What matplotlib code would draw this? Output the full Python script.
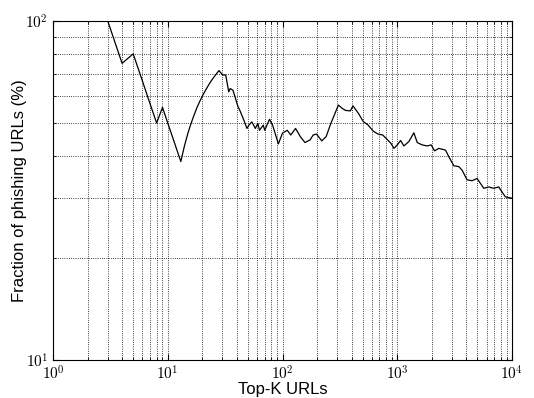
import math

import matplotlib
matplotlib.use('Agg')
import matplotlib.pyplot as plt
from matplotlib.ticker import LogLocator, FuncFormatter, NullFormatter

plt.rcParams['font.family'] = ['Liberation Sans', 'DejaVu Sans']
plt.rcParams['mathtext.fontset'] = 'cm'

# top-K rank and fraction of phishing URLs (%)
top_k = [1, 2, 3, 4, 5, 6, 7, 8, 9, 10, 11, 12, 13,
         14, 15, 16, 17, 18, 19, 20, 21, 22, 23, 24, 25, 26, 27, 28,
         30, 32, 34, 35, 37, 41, 42, 45, 49, 51, 54, 58, 61, 63, 68, 70,
         77, 82, 92, 100, 110, 118, 130, 143, 157, 174, 185, 198, 220, 240,
         264, 307, 332, 354, 390, 411, 459, 506, 558, 615, 678, 747, 823,
         879, 937, 1000, 1069, 1143, 1263, 1396, 1493, 1650, 1824, 1976,
         2113, 2303, 2633, 2814, 3110, 3437, 3675, 4060, 4487, 4960, 5305,
         5673, 6270, 6930, 7660, 8190, 8750, 10000]
fraction = [100, 100, 100, 75, 80, 66.7, 57.1, 50, 55.6, 50, 45.5, 41.7, 38.5,
            42.9, 46.7, 50, 52.9, 55.6, 57.9, 60, 61.9, 63.6, 65.2, 66.7, 68, 69.2, 70.4, 71.4,
            69.3, 69.3, 61.8, 63.2, 62.5, 55.8, 55.0, 52.0, 48.2, 49.3, 50.4, 48.2, 49.9, 47.6, 49.3, 47.6,
            51.3, 49.3, 43.4, 46.7, 47.6, 46.1, 48.2, 45.6, 43.8, 44.6, 46.1, 46.4, 44.3, 45.6,
            49.9, 56.5, 55.2, 54.5, 54.3, 56.2, 53.4, 50.5, 49.3, 47.4, 46.4, 46.1, 44.6,
            43.6, 42.1, 43.1, 44.4, 42.8, 44.1, 46.8, 43.8, 43.1, 42.8, 43.1,
            41.4, 42.1, 41.6, 39.8, 37.4, 37.2, 36.3, 34.0, 33.8, 34.3, 33.2,
            32.1, 32.4, 32.1, 32.4, 31.3, 30.3, 30.0]

fig = plt.figure(figsize=(5.34, 3.98), dpi=100)
ax = fig.add_axes([53 / 534, 38 / 398, 459 / 534, 339 / 398])

ax.plot(top_k, fraction, color='k', lw=0.9)
ax.set_xscale('log')
ax.set_yscale('log')
ax.set_xlim(1, 1e4)
ax.set_ylim(10, 100)

ax.xaxis.set_major_locator(LogLocator(base=10))
ax.yaxis.set_major_locator(LogLocator(base=10))
ax.xaxis.set_minor_locator(LogLocator(base=10, subs=range(2, 10)))
ax.yaxis.set_minor_locator(LogLocator(base=10, subs=range(2, 10)))
fmt = FuncFormatter(lambda v, pos: r'$10^{%d}$' % round(math.log10(v)))
ax.xaxis.set_major_formatter(fmt)
ax.yaxis.set_major_formatter(fmt)
ax.xaxis.set_minor_formatter(NullFormatter())
ax.yaxis.set_minor_formatter(NullFormatter())

ax.grid(True, which='both', color='k', linestyle=':', linewidth=0.6)
ax.tick_params(which='both', direction='in', top=True, right=True, labelsize=11)
ax.tick_params(which='major', length=4)
ax.tick_params(which='minor', length=2)
ax.tick_params(axis='x', pad=3)

ax.set_xlabel('Top-K URLs', fontsize=12, labelpad=0)
ax.set_ylabel('Fraction of phishing URLs (%)', fontsize=12, labelpad=-1)

fig.savefig('out.png', dpi=100)
